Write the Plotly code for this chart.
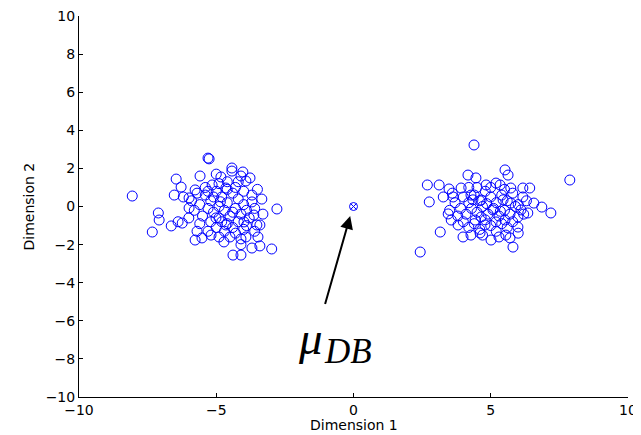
import plotly.graph_objects as go

# Left cluster (Dimension 1, Dimension 2)
left_x = [-8.06, -5.26, -6.46, -6.53, -7.11, -7.08, -6.64, -7.33, -6.39,
          -5.30, -4.43, -4.43, -5.59, -6.28, -4.83, -4.65, -5.15, -5.77, -5.99, -5.99,
          -6.24, -5.77, -5.52, -5.19, -4.90, -4.72, -4.39, -5.01, -4.65,
          -4.03, -3.77, -3.92, -3.70, -3.34, -2.79, -3.63, -3.99, -3.52, -3.41,
          -3.92, -3.48, -3.70, -3.41, -2.98, -4.10,
          -5.4, -5.2, -5.0, -4.8, -4.6, -4.4, -4.2, -4.0, -5.6, -5.3, -5.1, -4.9,
          -4.7, -4.5, -4.3, -4.1, -3.9, -5.5, -5.2, -4.9, -4.6, -4.4, -4.2, -4.0,
          -3.8, -5.0, -4.7, -4.5, -4.3, -4.1, -5.3, -5.8, -5.9, -5.7, -5.4, -4.9,
          -4.3, -4.0, -3.7, -3.6, -4.6, -5.1, -4.8, -4.4, -5.6, -3.9, -4.2, -4.6,
          -5.3, -4.85, -6.0, -5.7, -3.5, -3.3, -3.6, -4.1, -5.0, -4.1, -6.2]
left_y = [0.55, 2.50, 1.44, 0.60, -0.34, -0.71, -1.02, -1.34, -0.80,
          2.54, 2.02, 1.86, 1.60, 1.02, 1.55, 0.97, 1.13, 0.87, 0.45, -0.08,
          -0.87, -1.76, -1.65, -1.50, -1.60, -1.86, -2.55, -0.60, -0.97,
          1.81, 1.50, 1.34, 0.24, 0.39, -0.13, -0.45, -0.81, -0.97, -0.97,
          -1.60, -1.60, -2.18, -2.07, -2.23, -2.55,
          0.6, 0.3, 0.8, 0.5, 0.2, 0.7, 0.4, 0.1, 0.1, -0.1, -0.3, 0.0,
          -0.2, -0.5, -0.1, -0.4, -0.2, -0.5, -0.8, -0.6, -0.9, -1.1, -0.8, -1.2,
          -0.6, -1.1, -1.3, -1.6, -1.4, -1.7, -1.3, -0.2, 0.3, 0.7, 1.0, 1.2,
          1.0, 0.8, 0.6, -0.1, 0.9, 0.5, -0.8, -0.3, -0.9, -1.0, 1.3, 1.3,
          0.8, 0.25, -0.6, -1.3, 0.9, -0.4, -1.3, -2.0, 1.7, 1.6, 0.5]

# Right cluster
right_x = [4.17, 2.69, 3.12, 3.48, 2.76, 3.27, 3.63, 3.92, 3.45, 3.56, 3.16, 2.43,
           3.99, 3.81,
           4.39, 5.52, 5.63, 5.19, 5.34, 4.46, 4.83, 5.73, 6.17, 6.17, 5.73, 5.08,
           4.65, 4.28, 6.10, 5.99, 5.19, 4.79, 4.43, 4.28, 4.61, 5.01, 5.55, 5.70,
           5.81, 5.99, 5.52,
           7.88, 6.42, 6.57, 6.86, 7.19, 6.35,
           4.0, 4.2, 4.4, 4.6, 4.8, 5.0, 5.2, 5.4, 5.6, 5.8, 6.0, 3.9, 4.1, 4.3,
           4.5, 4.7, 4.9, 5.1, 5.3, 5.5, 5.7, 5.9, 4.0, 4.2, 4.4, 4.6, 4.8, 5.0,
           5.2, 5.4, 5.6, 5.8, 3.7, 3.8, 6.2, 6.3, 4.5, 5.0, 5.5, 4.2, 3.6, 4.7,
           5.3, 3.5, 6.0, 4.35, 4.85, 5.35, 4.65, 5.45]
right_y = [1.65, 1.13, 1.13, 0.92, 0.24, 0.50, 0.50, 0.97, -0.39, -0.71, -1.34, -2.39,
           -1.60, -0.97,
           3.23, 1.92, 1.65, 1.23, 1.13, 1.50, 1.13, 0.97, 0.97, 0.50, 0.18, -0.18,
           0.34, 0.60, -0.18, -0.55, -0.81, -0.97, -0.71, -1.50, -1.39, -1.76, -1.50, -1.65,
           -2.13, -1.08, -0.71,
           1.39, 0.97, 0.18, -0.03, -0.34, -0.34,
           0.5, 0.2, 0.6, 0.3, 0.8, 0.5, 0.2, 0.6, 0.3, 0.7, 0.1, -0.1, -0.4, -0.1,
           -0.3, 0.0, -0.4, -0.1, -0.5, -0.2, -0.4, 0.0, -0.8, -1.1, -0.9, -1.2, -0.7, -1.0,
           -1.3, -0.9, -1.1, -0.8, 0.2, -0.5, -0.4, 0.3, 1.0, 1.0, 0.9, 1.0, 0.7, -1.5,
           -1.6, -0.2, -1.4, 0.35, 0.15, -0.25, -0.55, 0.35]

mu_x = [0.0]
mu_y = [0.0]

arrow_tail = (-1.05, -5.2)
arrow_head = (-0.12, -0.5)

x_ticks = [-10, -5, 0, 5, 10]
y_ticks = [-10, -8, -6, -4, -2, 0, 2, 4, 6, 8, 10]

x_title = "Dimension 1"
y_title = "Dimension 2"

blue = "#0000ff"
marker = dict(symbol="circle-open", size=10, color=blue, line=dict(width=1, color=blue))

fig = go.Figure()
fig.add_trace(go.Scatter(x=left_x + right_x, y=left_y + right_y, mode="markers",
                         marker=marker, showlegend=False, hoverinfo="skip"))
fig.add_trace(go.Scatter(x=mu_x, y=mu_y, mode="markers",
                         marker=dict(symbol="circle-x-open", size=8, color=blue,
                                     line=dict(width=1, color=blue)),
                         showlegend=False))

fig.add_annotation(x=arrow_head[0], y=arrow_head[1], ax=arrow_tail[0], ay=arrow_tail[1],
                   xref="x", yref="y", axref="x", ayref="y", text="",
                   showarrow=True, arrowhead=2, arrowsize=1.3, arrowwidth=2, arrowcolor="black")

serif = "Liberation Serif, Times New Roman, serif"
fig.add_annotation(x=-1.05, y=-6.9, xref="x", yref="y", showarrow=False,
                   xanchor="right", yanchor="middle", text="<i>μ</i>",
                   font=dict(family=serif, size=47, color="black"))
fig.add_annotation(x=-1.13, y=-7.6, xref="x", yref="y", showarrow=False,
                   xanchor="left", yanchor="middle", text="<i>DB</i>",
                   font=dict(family=serif, size=35, color="black"))

sans = "DejaVu Sans, Liberation Sans, Arial, sans-serif"

# Axis titles placed as text next to the axes
fig.add_annotation(x=0.5, y=0, xref="paper", yref="paper", yshift=-28,
                   xanchor="center", yanchor="middle", showarrow=False, text=x_title,
                   font=dict(family=sans, size=14, color="black"))
fig.add_annotation(x=0, y=0.5, xref="paper", yref="paper", xshift=-51,
                   xanchor="center", yanchor="middle", showarrow=False, text=y_title,
                   textangle=-90, font=dict(family=sans, size=14, color="black"))

axis_common = dict(showgrid=False, zeroline=False, showline=True, linecolor="black",
                   linewidth=1, ticks="inside", ticklen=4, tickcolor="black",
                   mirror=False, automargin=False, ticklabeloverflow="allow",
                   tickfont=dict(family=sans, size=14, color="black"))

# The page body adds an 8px offset, so the figure is 8px smaller on each axis
fig.update_layout(
    width=633, height=427,
    margin=dict(l=71, r=13, t=8, b=38),
    plot_bgcolor="white", paper_bgcolor="white",
    font=dict(family=sans, size=14, color="black"),
    xaxis=dict(range=[-10, 10], tickvals=x_ticks, **axis_common),
    yaxis=dict(range=[-10, 10], tickvals=y_ticks, **axis_common),
)

fig.write_html("out.html")
